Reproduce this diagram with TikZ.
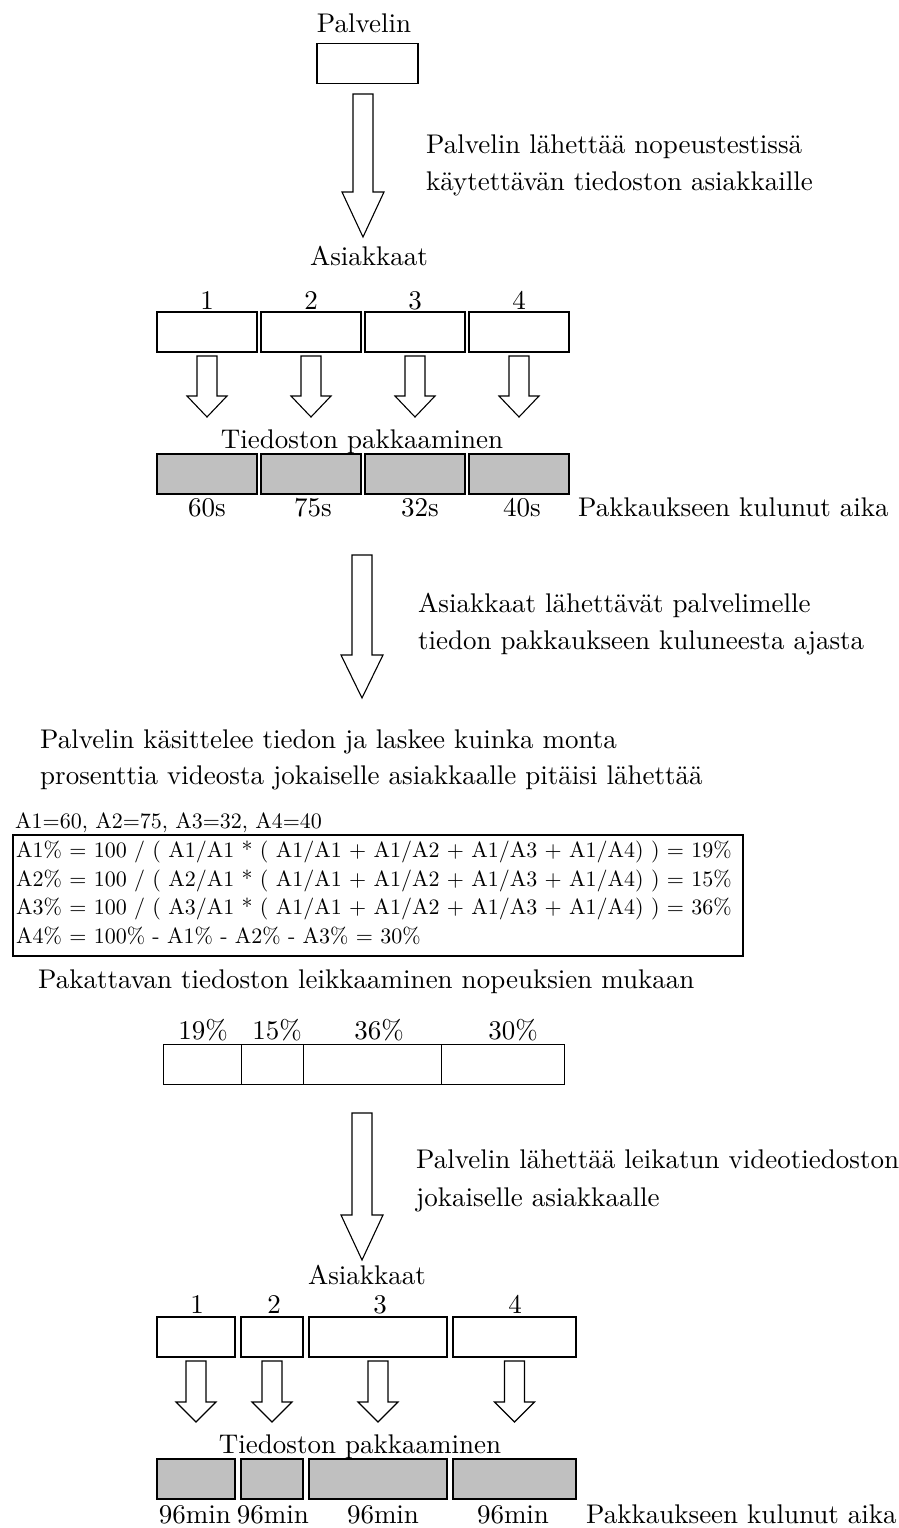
\documentclass[tikz,border=0pt]{standalone}
\usepackage{fontspec}
\newfontfamily\lmten{lmroman10-regular.otf}
\definecolor{boxgrey}{HTML}{C0C0C0}
\newcommand\blockarrow[6]{%
  \draw[arrowline] ({#1-#5},#2) -- ({#1+#5},#2) -- ({#1+#5},#3) -- ({#1+#6},#3)
    -- (#1,#4) -- ({#1-#6},#3) -- ({#1-#5},#3) -- cycle;}
\tikzset{
  txt/.style={inner sep=0pt, font=\lmten\fontsize{27}{36}\selectfont},
  ltxt/.style={txt, anchor=base west},
  ctxt/.style={txt, anchor=base},
  ftxt/.style={inner sep=0pt, anchor=base west, font=\lmten\fontsize{22}{29}\selectfont},
  cbox/.style={draw, line width=1.6pt, minimum height=40pt, inner sep=0pt},
  gbox/.style={cbox, fill=boxgrey},
  pbox/.style={draw, line width=1pt, minimum height=40pt, inner sep=0pt},
  arrowline/.style={draw, line width=1.1pt, line join=miter, fill=white},
}
\begin{document}
\begin{tikzpicture}[x=1pt, y=-1pt]
\useasboundingbox (0,0) rectangle (898,1528);
% top server
\node[ctxt] (tPalv) at (364,33) {Palvelin};
\node[cbox, minimum width=101pt] (server) at (367.5,63.5) {};
\blockarrow{363}{94}{192}{237}{10}{21}
\node[ltxt] (t1a) at (426,153) {Palvelin lähettää nopeustestissä};
\node[ltxt] (t1b) at (426,190) {käytettävän tiedoston asiakkaille};
% clients
\node[ctxt] (tAs1) at (369,265) {Asiakkaat};
\foreach \i/\x in {1/207,2/311,3/415,4/519}{
  \node[ctxt] (n\i) at (\x,309) {\i};
  \node[cbox, minimum width=100pt] (c\i) at (\x,332) {};
  \blockarrow{\x}{356}{396}{417}{10}{20}
  \node[gbox, minimum width=100pt] (g\i) at (\x,474) {};
}
\node[ctxt] (tPak1) at (362,448) {Tiedoston pakkaaminen};
\node[ctxt] (s1) at (207,516) {60s};
\node[ctxt] (s2) at (313,516) {75s};
\node[ctxt] (s3) at (420,516) {32s};
\node[ctxt] (s4) at (522,516) {40s};
\node[ltxt] (tKul1) at (578,516) {Pakkaukseen kulunut aika};
% arrow 2
\blockarrow{362}{555}{655}{698}{10}{21}
\node[ltxt] (t2a) at (418,612) {Asiakkaat lähettävät palvelimelle};
\node[ltxt] (t2b) at (418,649) {tiedon pakkaukseen kuluneesta ajasta};
% calculation
\node[ltxt] (t3a) at (40,748) {Palvelin käsittelee tiedon ja laskee kuinka monta};
\node[ltxt] (t3b) at (40,784) {prosenttia videosta jokaiselle asiakkaalle pitäisi lähettää};
\node[ftxt] (vals) at (15,828) {A1=60, A2=75, A3=32, A4=40};
\node[draw, line width=1.8pt, minimum width=730pt, minimum height=121pt, inner sep=0pt] (fbox) at (378,895.5) {};
\node[ftxt] (f1) at (16,857) {A1\% = 100 / ( A1/A1 * ( A1/A1 + A1/A2 + A1/A3 + A1/A4) ) = 19\%};
\node[ftxt] (f2) at (16,886) {A2\% = 100 / ( A2/A1 * ( A1/A1 + A1/A2 + A1/A3 + A1/A4) ) = 15\%};
\node[ftxt] (f3) at (16,914) {A3\% = 100 / ( A3/A1 * ( A1/A1 + A1/A2 + A1/A3 + A1/A4) ) = 36\%};
\node[ftxt] (f4) at (16,943) {A4\% = 100\% - A1\% - A2\% - A3\% = 30\%};
\node[ltxt] (t4) at (38,988) {Pakattavan tiedoston leikkaaminen nopeuksien mukaan};
% percentage bar
\node[pbox, minimum width=78pt] (p1) at (202,1064) {};
\node[pbox, minimum width=62pt] (p2) at (272,1064) {};
\node[pbox, minimum width=138pt] (p3) at (372,1064) {};
\node[pbox, minimum width=123pt] (p4) at (502.5,1064) {};
\node[ctxt] (q1) at (203,1039) {19\%};
\node[ctxt] (q2) at (277,1039) {15\%};
\node[ctxt] (q3) at (379,1039) {36\%};
\node[ctxt] (q4) at (513,1039) {30\%};
% arrow 3
\blockarrow{362}{1113}{1215}{1260}{10}{21}
\node[ltxt] (t5a) at (416,1168) {Palvelin lähettää leikatun videotiedoston};
\node[ltxt] (t5b) at (416,1206) {jokaiselle asiakkaalle};
% clients 2
\node[ctxt] (tAs2) at (367,1284) {Asiakkaat};
\foreach \i/\x/\w in {1/196/78,2/272/62,3/378/138,4/514.5/123}{
  \node[cbox, minimum width=\w pt] (d\i) at (\x,1337) {};
  \blockarrow{\x}{1361}{1402}{1422}{10}{20}
  \node[gbox, minimum width=\w pt] (h\i) at (\x,1479) {};
}
\node[ctxt] (m1) at (197,1313) {1};
\node[ctxt] (m2) at (274,1313) {2};
\node[ctxt] (m3) at (380,1313) {3};
\node[ctxt] (m4) at (515,1313) {4};
\node[ctxt] (tPak2) at (360,1453) {Tiedoston pakkaaminen};
\node[ctxt] (r1) at (195,1523) {96min};
\node[ctxt] (r2) at (273,1523) {96min};
\node[ctxt] (r3) at (383,1523) {96min};
\node[ctxt] (r4) at (513,1523) {96min};
\node[ltxt] (tKul2) at (586,1523) {Pakkaukseen kulunut aika};
\end{tikzpicture}
\end{document}
